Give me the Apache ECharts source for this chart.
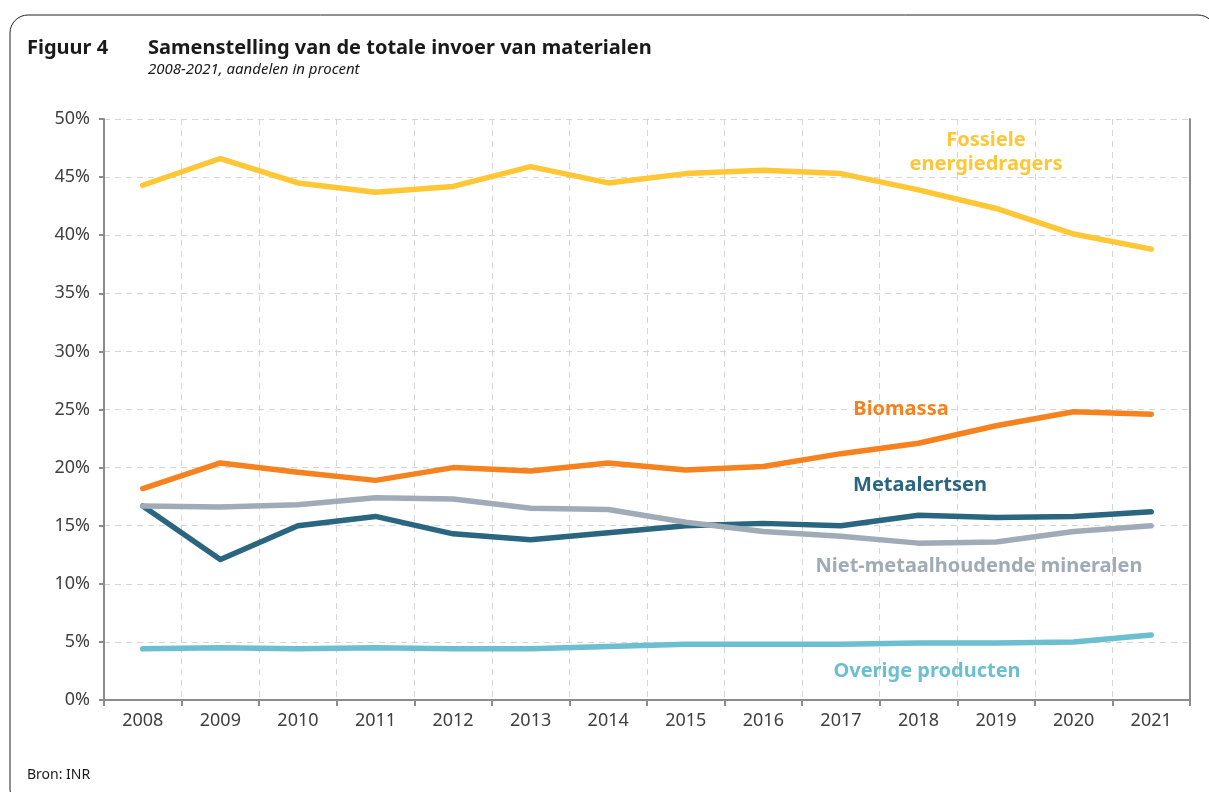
<!DOCTYPE html>
<html>
<head>
<meta charset="utf-8">
<script src="https://cdn.jsdelivr.net/npm/echarts@6/dist/echarts.min.js"></script>
<style>
  html, body { margin: 0; padding: 0; background: #fff; }
  #chart { width: 1209px; height: 792px; }
</style>
</head>
<body>
<div id="chart"></div>
<script>
var years = ['2008', '2009', '2010', '2011', '2012', '2013', '2014', '2015', '2016', '2017', '2018', '2019', '2020', '2021'];
var fossiele = [44.3, 46.6, 44.5, 43.7, 44.2, 45.9, 44.5, 45.3, 45.6, 45.3, 43.9, 42.3, 40.1, 38.8];
var biomassa = [18.2, 20.4, 19.6, 18.9, 20.0, 19.7, 20.4, 19.8, 20.1, 21.2, 22.1, 23.6, 24.8, 24.6];
var metaalertsen = [16.7, 12.1, 15.0, 15.8, 14.3, 13.8, 14.4, 15.0, 15.2, 15.0, 15.9, 15.7, 15.8, 16.2];
var nietMetaal = [16.7, 16.6, 16.8, 17.4, 17.3, 16.5, 16.4, 15.3, 14.5, 14.1, 13.5, 13.6, 14.5, 15.0];
var overige = [4.4, 4.5, 4.4, 4.5, 4.4, 4.4, 4.6, 4.8, 4.8, 4.8, 4.9, 4.9, 5.0, 5.6];
var yTicks = [0, 5, 10, 15, 20, 25, 30, 35, 40, 45, 50];

var font = '"Noto Sans", "DejaVu Sans", sans-serif';
var asKleur = '#8c8c8c';

function lijn(naam, data, kleur) {
    return {
        name: naam,
        type: 'line',
        data: data,
        symbol: 'none',
        lineStyle: { color: kleur, width: 5.5, cap: 'round', join: 'round' },
        itemStyle: { color: kleur }
    };
}

function label(tekst, x, y, kleur) {
    return {
        type: 'text',
        x: x, y: y,
        style: {
            text: tekst, fill: kleur, align: 'center', verticalAlign: 'middle',
            font: 'bold 20px ' + font, lineHeight: 24
        },
        z: 10
    };
}

var chart = echarts.init(document.getElementById('chart'));
chart.setOption({
    animation: false,
    backgroundColor: '#fff',
    grid: { left: 104, right: 19, top: 119, bottom: 92 },
    xAxis: [{
        type: 'category',
        data: years,
        boundaryGap: true,
        axisLine: { lineStyle: { color: asKleur, width: 2 } },
        axisTick: { show: true, length: 6, lineStyle: { color: asKleur, width: 2 } },
        axisLabel: { color: '#404040', fontFamily: font, fontSize: 18, margin: 12 },
        splitLine: { show: true, lineStyle: { color: '#d6d6d6', type: [6, 5], width: 1 } }
    }, {
        // bovenrand van het plotvlak
        type: 'category',
        data: years,
        position: 'top',
        axisLine: { show: true, lineStyle: { color: asKleur, width: 2 } },
        axisTick: { show: false },
        axisLabel: { show: false },
        splitLine: { show: false }
    }],
    yAxis: [{
        type: 'value',
        min: yTicks[0],
        max: yTicks[yTicks.length - 1],
        interval: 5,
        axisLine: { show: true, lineStyle: { color: asKleur, width: 2 } },
        axisTick: { show: true, length: 5, lineStyle: { color: asKleur, width: 2 } },
        axisLabel: { color: '#404040', fontFamily: font, fontSize: 18, margin: 14, formatter: '{value}%' },
        splitLine: { show: true, lineStyle: { color: '#d6d6d6', type: [6, 5], width: 1 } }
    }, {
        // rechterrand van het plotvlak
        type: 'value',
        position: 'right',
        min: yTicks[0],
        max: yTicks[yTicks.length - 1],
        interval: 5,
        axisLine: { show: true, lineStyle: { color: asKleur, width: 2 } },
        axisTick: { show: false },
        axisLabel: { show: false },
        splitLine: { show: false }
    }],
    series: [
        lijn('Overige producten', overige, '#6bbfd0'),
        lijn('Metaalertsen', metaalertsen, '#2b6680'),
        lijn('Niet-metaalhoudende mineralen', nietMetaal, '#a1abb8'),
        lijn('Biomassa', biomassa, '#f5821f'),
        lijn('Fossiele energiedragers', fossiele, '#ffc736')
    ],
    graphic: [
        {
            type: 'rect',
            shape: { x: 10, y: 15, width: 1206, height: 792, r: 18 },
            style: { fill: 'none', stroke: '#222', lineWidth: 1 },
            silent: true
        },
        {
            type: 'text', x: 27, y: 48,
            style: { text: 'Figuur 4', fill: '#1a1a1a', font: 'bold 20px ' + font, verticalAlign: 'middle' }
        },
        {
            type: 'text', x: 148, y: 48,
            style: { text: 'Samenstelling van de totale invoer van materialen', fill: '#1a1a1a', font: 'bold 20px ' + font, verticalAlign: 'middle' }
        },
        {
            type: 'text', x: 148, y: 70,
            style: { text: '2008-2021, aandelen in procent', fill: '#1a1a1a', font: 'italic 15px ' + font, verticalAlign: 'middle' }
        },
        {
            type: 'text', x: 27, y: 775,
            style: { text: 'Bron: INR', fill: '#1a1a1a', font: '14px ' + font, verticalAlign: 'middle' }
        },
        label('Fossiele\nenergiedragers', 986, 152, '#ffc736'),
        label('Biomassa', 901, 409, '#f5821f'),
        label('Metaalertsen', 920, 485, '#2b6680'),
        label('Niet-metaalhoudende mineralen', 979, 566, '#a1abb8'),
        label('Overige producten', 927, 671, '#6bbfd0')
    ]
});
</script>
</body>
</html>
